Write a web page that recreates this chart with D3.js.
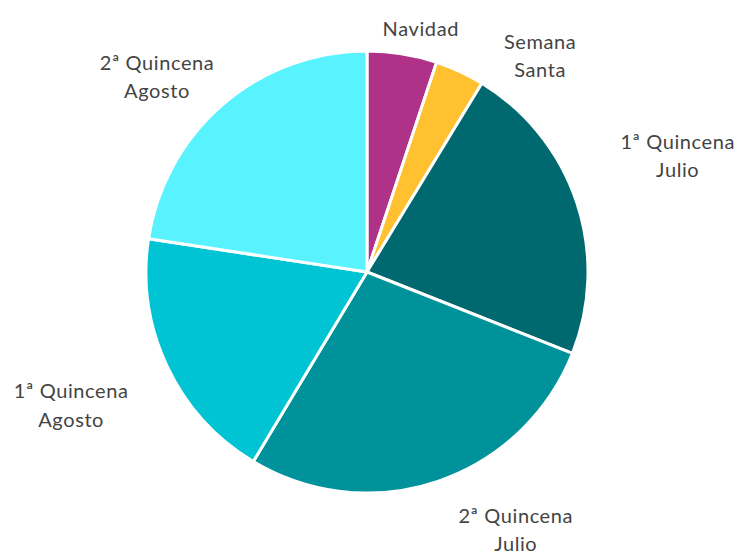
<!DOCTYPE html>
<html>
<head>
<meta charset="utf-8">
<script src="https://cdn.jsdelivr.net/npm/d3@7"></script>
<style>
  html, body { margin: 0; padding: 0; background: #fff; }
  svg { display: block; }
  .label { font-family: Lato, "Open Sans", sans-serif; font-size: 20px; letter-spacing: 0.6px; fill: #444; }
</style>
</head>
<body>
<div id="chart"></div>
<script>
// Categories (clockwise from 12 o'clock) and their shares (%)
const categories = ['Navidad', 'Semana Santa', '1ª Quincena Julio', '2ª Quincena Julio', '1ª Quincena Agosto', '2ª Quincena Agosto'];
const shares = [5.1, 3.6, 22.3, 27.6, 18.8, 22.6];
const labelLines = [['Navidad'], ['Semana', 'Santa'], ['1ª Quincena', 'Julio'], ['2ª Quincena', 'Julio'], ['1ª Quincena', 'Agosto'], ['2ª Quincena', 'Agosto']];
const colors = ['#B03188', '#FFC12F', '#00696F', '#00929A', '#00C4D3', '#59F3FF'];

// Label placement (Excel "best fit"): angle in degrees from 12 o'clock, distance as multiple of radius
const labelAngles = [12.5, 38.8, 69.6, 150.1, 245.6, 312.8];
const labelDist = [1.125, 1.25, 1.5, 1.35, 1.47, 1.295];

const width = 739, height = 555;
const cx = 367, cy = 272, radius = 221;

const svg = d3.select('#chart')
  .append('svg')
  .attr('width', width)
  .attr('height', height);

const g = svg.append('g')
  .attr('transform', `translate(${cx},${cy})`);

const pie = d3.pie().sort(null).value(d => d.value);
const arc = d3.arc().innerRadius(0).outerRadius(radius);

const data = categories.map((c, i) => ({ name: c, value: shares[i], color: colors[i], lines: labelLines[i], i }));

g.selectAll('.slice')
  .data(pie(data))
  .enter()
  .append('path')
  .attr('class', 'slice')
  .attr('d', arc)
  .style('fill', d => d.data.color)
  .style('stroke', '#fff')
  .style('stroke-width', '3px')
  .style('stroke-linejoin', 'round');

// Labels
const lineHeight = 28.5;
const labels = g.selectAll('.label')
  .data(data)
  .enter()
  .append('text')
  .attr('class', 'label')
  .attr('text-anchor', 'middle')
  .attr('transform', d => {
    const a = labelAngles[d.i] * Math.PI / 180;
    const r = radius * labelDist[d.i];
    return `translate(${r * Math.sin(a)},${-r * Math.cos(a)})`;
  });

labels.each(function(d) {
  const n = d.lines.length;
  d3.select(this).selectAll('tspan')
    .data(d.lines)
    .enter()
    .append('tspan')
    .attr('x', 0)
    .attr('y', (l, j) => (j - (n - 1) / 2) * lineHeight + 6.5)
    .text(l => l);
});
</script>
</body>
</html>
